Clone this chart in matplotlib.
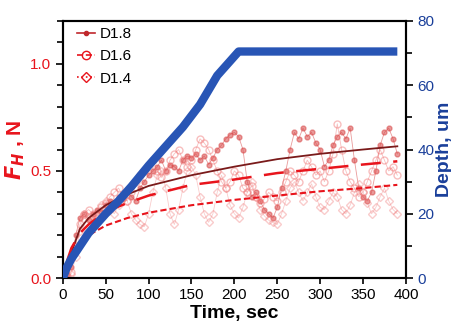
import numpy as np
import matplotlib.pyplot as plt

plt.rcParams['font.family'] = ['Liberation Sans', 'DejaVu Sans']

# raw force data, sampled every 5 s
t_step = 5
f_d18 = [0, 0.02, 0.05, 0.2, 0.28, 0.3, 0.27, 0.3, 0.32, 0.31, 0.34, 0.36, 0.35, 0.38, 0.37, 0.4,
         0.38, 0.36, 0.42, 0.45, 0.48, 0.5, 0.52, 0.55, 0.5, 0.53, 0.52, 0.5, 0.55, 0.57, 0.56, 0.58,
         0.55, 0.57, 0.53, 0.56, 0.6, 0.62, 0.65, 0.67, 0.68, 0.66, 0.6, 0.45, 0.38, 0.4, 0.36, 0.32,
         0.3, 0.28, 0.33, 0.42, 0.5, 0.6, 0.68, 0.65, 0.7, 0.66, 0.68, 0.63, 0.6, 0.52, 0.55, 0.62,
         0.66, 0.68, 0.65, 0.7, 0.55, 0.42, 0.38, 0.36, 0.4, 0.5, 0.62, 0.68, 0.7, 0.65, 0.58]
f_d16 = [0, 0.01, 0.03, 0.15, 0.25, 0.3, 0.32, 0.3, 0.28, 0.33, 0.35, 0.38, 0.4, 0.42, 0.38, 0.36,
         0.4, 0.45, 0.48, 0.5, 0.52, 0.55, 0.5, 0.47, 0.5, 0.55, 0.58, 0.6, 0.55, 0.52, 0.55, 0.6,
         0.65, 0.63, 0.6, 0.55, 0.5, 0.45, 0.42, 0.45, 0.5, 0.48, 0.42, 0.4, 0.43, 0.38, 0.35, 0.37,
         0.4, 0.38, 0.36, 0.4, 0.45, 0.5, 0.48, 0.45, 0.5, 0.55, 0.52, 0.48, 0.5, 0.45, 0.5, 0.58,
         0.72, 0.6, 0.5, 0.45, 0.42, 0.38, 0.4, 0.45, 0.5, 0.55, 0.6, 0.55, 0.5, 0.52, 0.48]
f_d14 = [0, 0, 0.02, 0.1, 0.22, 0.3, 0.28, 0.26, 0.3, 0.34, 0.36, 0.33, 0.3, 0.34, 0.38, 0.36,
         0.3, 0.27, 0.25, 0.24, 0.3, 0.4, 0.48, 0.5, 0.42, 0.3, 0.25, 0.32, 0.42, 0.5, 0.52, 0.48,
         0.38, 0.3, 0.26, 0.3, 0.4, 0.48, 0.42, 0.34, 0.3, 0.28, 0.33, 0.4, 0.45, 0.38, 0.32, 0.29,
         0.27, 0.26, 0.25, 0.3, 0.36, 0.42, 0.45, 0.4, 0.36, 0.4, 0.44, 0.38, 0.33, 0.32, 0.36, 0.4,
         0.38, 0.32, 0.3, 0.34, 0.4, 0.44, 0.4, 0.35, 0.3, 0.33, 0.38, 0.42, 0.36, 0.32, 0.3]

# fitted curves
fit18_t = [2, 5, 10, 20, 30, 50, 75, 100, 150, 200, 250, 300, 350, 390]
fit18_f = [0.0, 0.04, 0.12, 0.23, 0.28, 0.34, 0.39, 0.43, 0.48, 0.52, 0.555, 0.58, 0.60, 0.615]
fit16_t = [5, 10, 20, 30, 50, 75, 100, 150, 200, 250, 300, 350, 390]
fit16_f = [0.08, 0.14, 0.21, 0.25, 0.31, 0.35, 0.385, 0.435, 0.46, 0.49, 0.51, 0.53, 0.545]
fit14_t = [8, 10, 20, 30, 50, 75, 100, 150, 200, 250, 300, 350, 390]
fit14_f = [0.06, 0.09, 0.16, 0.2, 0.245, 0.28, 0.305, 0.34, 0.365, 0.385, 0.405, 0.42, 0.435]

# indentation depth
depth_t = [0, 5, 10, 20, 30, 40, 50, 65, 80, 100, 120, 140, 160, 180, 195, 205, 390]
depth_um = [0, 3.5, 6, 10, 14, 17, 20, 24, 28.5, 35, 41, 47, 54, 63, 67.5, 70.5, 70.5]

red = '#e8141c'
blue = '#1a3f9a'

fig = plt.figure(figsize=(4.52, 3.33), dpi=100)
ax = fig.add_axes([0.139, 0.165, 0.759, 0.772])
ax2 = ax.twinx()

t18 = np.arange(len(f_d18)) * t_step
t16 = np.arange(len(f_d16)) * t_step
t14 = np.arange(len(f_d14)) * t_step

ax.plot(t18, f_d18, '-o', color='#d84848', lw=0.6, ms=3.5, alpha=0.55, mec='#d84848')
ax.plot(t16, f_d16, '-o', color='#f07070', lw=0.6, ms=5, alpha=0.45, mfc='none', mec='#f07070')
ax.plot(t14, f_d14, '-D', color='#f08080', lw=0.6, ms=4, alpha=0.4, mfc='none', mec='#f08080')

ax2.plot(depth_t, depth_um, '-', color='#2855b5', lw=6, solid_capstyle='butt', zorder=3)

ax.plot(fit18_t, fit18_f, '-', color='#7a1a1a', lw=1.3, zorder=5)
ax.plot(fit16_t, fit16_f, '--', color=red, lw=1.8, dashes=(8, 5), zorder=5)
ax.plot(fit14_t, fit14_f, '--', color=red, lw=1.5, dashes=(3, 1.5), zorder=5)

# legend handles
h1, = ax.plot([], [], '-', color='#c0282c', marker='o', ms=3, lw=1.2)
h2, = ax.plot([], [], '--', color=red, marker='o', ms=6, mfc='none', lw=1.2)
h3, = ax.plot([], [], ':', color=red, marker='D', ms=5, mfc='none', lw=1.2)
ax.legend([h1, h2, h3], ['D1.8', 'D1.6', 'D1.4'], loc='upper left', frameon=False,
          fontsize=11, handlelength=1.2, handletextpad=0.3, labelspacing=0.55,
          bbox_to_anchor=(0.0, 1.03))

ax.set_xlim(0, 400)
ax.set_ylim(0, 1.2)
ax2.set_ylim(0, 80)
ax.set_xticks(np.arange(0, 401, 50))
ax.set_yticks([0.0, 0.5, 1.0])
ax.set_yticks(np.arange(0, 1.21, 0.1), minor=True)
ax2.set_yticks([0, 20, 40, 60, 80])
ax2.set_yticks(np.arange(0, 81, 10), minor=True)

ax.tick_params(axis='x', labelsize=11, length=4, width=1.2)
ax.tick_params(axis='y', labelsize=11, colors=red, length=5, width=1.2)
ax.tick_params(axis='y', which='minor', length=4, width=1.2, color='black')
ax.tick_params(axis='y', which='major', color='black')
ax2.tick_params(axis='y', labelsize=11, labelcolor=blue, color='black', length=5, width=1.2)
ax2.tick_params(axis='y', which='minor', length=4, width=1.2, color='black')

for a in (ax, ax2):
    for s in a.spines.values():
        s.set_linewidth(1.5)

ax.set_xlabel('Time, sec', fontsize=14, fontweight='bold', labelpad=2)
ax.set_ylabel(r'$\bfit{F}_{\bfit{H}}$ , N', fontsize=15, fontweight='bold', color=red, labelpad=2)
ax2.set_ylabel('Depth, um', fontsize=14, fontweight='bold', color=blue, labelpad=1)

plt.savefig('out.png', dpi=100)
